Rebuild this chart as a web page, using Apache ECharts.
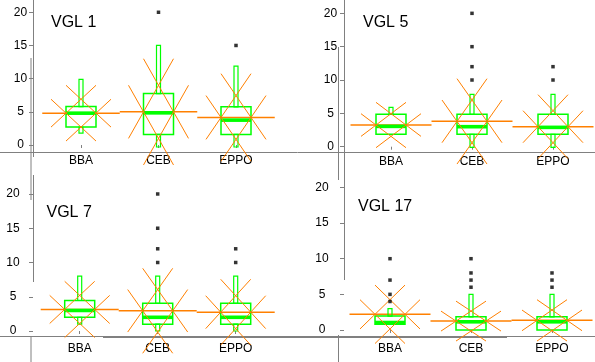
<!DOCTYPE html>
<html><head><meta charset="utf-8">
<script src="https://cdn.jsdelivr.net/npm/echarts@6/dist/echarts.min.js"></script>
<style>html,body{margin:0;padding:0;background:#fff}#c{width:595px;height:362px}</style>
</head><body><div id="c"></div>
<script>
// ---------------- data ----------------
const categories = ['BBA', 'CEB', 'EPPO'];
const panelTitles = ['VGL 1', 'VGL 5', 'VGL 7', 'VGL 17'];
const yTicks = [0, 5, 10, 15, 20];

// [min, q1, median, q3, max] per category
const vgl1Box = [[1.8, 2.7, 4.8, 5.8, 9.9], [-0.3, 1.6, 4.85, 7.75, 15], [-0.3, 1.6, 3.75, 5.75, 11.9]];
const vgl1Mean = [4.8, 5.0, 4.15];
const vgl1Ci = [2.1, 4.0, 3.3];
const vgl1Out = [[], [20], [15]];

const vgl5Box = [[1.85, 1.85, 3.05, 4.85, 5.9], [-0.1, 1.85, 3.0, 4.85, 7.85], [-0.1, 1.85, 2.9, 4.85, 7.85]];
const vgl5Mean = [3.25, 3.8, 3.0];
const vgl5Ci = [1.7, 3.2, 2.4];
const vgl5Out = [[], [10, 12, 15, 20], [10, 12]];

const vgl7Box = [[1.0, 2.0, 3.0, 4.45, 8.0], [0, 1.0, 2.0, 4.05, 8.0], [0, 1.0, 2.0, 4.05, 8.0]];
const vgl7Mean = [3.15, 2.95, 2.75];
const vgl7Ci = [2.05, 3.1, 2.4];
const vgl7Out = [[], [10, 12, 15, 20], [10, 12]];

const vgl17Box = [[0.8, 0.8, 1.05, 1.95, 3.0], [0, 0, 1.15, 1.85, 5.0], [0, 0, 1.15, 1.85, 5.0]];
const vgl17Mean = [2.2, 1.25, 1.35];
const vgl17Ci = [2.05, 1.4, 1.45];
const vgl17Out = [[4, 5, 7, 10], [6, 7, 8, 10], [6, 7, 8]];

// ---------------- layout ----------------
const panels = [
  { box: vgl1Box, mean: vgl1Mean, ci: vgl1Ci, out: vgl1Out,
    grid: { left: 42.25, top: 0, width: 232.5, height: 152 }, min: -1.05, max: 21.85,
    yOffset: 9.25, yMargin: 12.5, xMargin: 3, title: { left: 51, top: 15 } },
  { box: vgl5Box, mean: vgl5Mean, ci: vgl5Ci, out: vgl5Out,
    grid: { left: 350.5, top: 0, width: 243, height: 152.3 }, min: -0.84, max: 22,
    yOffset: 6.5, yMargin: 13.5, xMargin: 3, title: { left: 363, top: 15 } },
  { box: vgl7Box, mean: vgl7Mean, ci: vgl7Ci, out: vgl7Out,
    grid: { left: 40.7, top: 175, width: 234, height: 161.7 }, min: -0.83, max: 22.77,
    yOffset: 7.7, yMargin: 20, xMargin: 6, title: { left: 46.5, top: 205 } },
  { box: vgl17Box, mean: vgl17Mean, ci: vgl17Ci, out: vgl17Out,
    grid: { left: 349.5, top: 175, width: 243, height: 161.7 }, min: -0.94, max: 21.74,
    yOffset: 5.5, yMargin: 22, xMargin: 6, title: { left: 358, top: 198.5 } }
];

const GREEN = '#00ff00', ORANGE = '#ff8000', GRAY = '#808080';
const FONT = 'Liberation Sans, Arial, sans-serif';

function renderItem(params, api) {
  const i = api.value(0);
  const xc = api.coord([i, 0])[0];
  const band = api.size([1, 0])[0];
  const Y = v => api.coord([i, v])[1];
  const hb = 15, hw = 2;
  const mn = api.value(1), q1 = api.value(2), md = api.value(3), q3 = api.value(4), mx = api.value(5);
  const mean = api.value(6), ci = api.value(7);
  const ch = [];
  ch.push({ type: 'line', shape: { x1: xc - band / 2, y1: Y(mean), x2: xc + band / 2, y2: Y(mean) },
    style: { stroke: ORANGE, lineWidth: 1.5 } });
  ch.push({ type: 'rect', shape: { x: xc - hb, y: Y(q3), width: 2 * hb, height: Y(q1) - Y(q3) },
    style: { fill: 'none', stroke: GREEN, lineWidth: 1.5 } });
  if (mx > q3) ch.push({ type: 'rect', shape: { x: xc - hw, y: Y(mx), width: 2 * hw, height: Y(q3) - Y(mx) },
    style: { fill: 'none', stroke: GREEN, lineWidth: 1.2 } });
  if (mn < q1) ch.push({ type: 'rect', shape: { x: xc - hw, y: Y(q1), width: 2 * hw, height: Y(mn) - Y(q1) },
    style: { fill: 'none', stroke: GREEN, lineWidth: 1.2 } });
  ch.push({ type: 'rect', shape: { x: xc - hb, y: Y(md) - 1.8, width: 2 * hb, height: 3.6 },
    style: { fill: GREEN } });
  const T = [xc, Y(mean + ci)], B = [xc, Y(mean - ci)], L = [xc - hb, Y(mean)], R = [xc + hb, Y(mean)];
  [[T, L], [T, R], [B, L], [B, R]].forEach(([a, b]) => {
    const dx = b[0] - a[0], dy = b[1] - a[1];
    ch.push({ type: 'line', shape: { x1: a[0] - dx, y1: a[1] - dy, x2: b[0] + dx, y2: b[1] + dy },
      style: { stroke: ORANGE, lineWidth: 1 } });
  });
  return { type: 'group', children: ch };
}

const option = { animation: false, backgroundColor: '#fff',
  grid: [], xAxis: [], yAxis: [], series: [], title: [], graphic: [] };

panels.forEach((p, k) => {
  option.grid.push(Object.assign({ containLabel: false }, p.grid));
  option.xAxis.push({ type: 'category', gridIndex: k, data: categories,
    axisLine: { show: false }, axisTick: { show: true, alignWithLabel: true, length: 3, lineStyle: { color: GRAY } },
    axisLabel: { margin: p.xMargin, color: '#000', fontSize: 12, fontFamily: FONT },
    splitLine: { show: false } });
  option.yAxis.push({ type: 'value', gridIndex: k, min: p.min, max: p.max, offset: p.yOffset,
    axisLine: { show: false },
    axisTick: { show: true, length: 4, customValues: yTicks, lineStyle: { color: GRAY } },
    axisLabel: { customValues: yTicks, margin: p.yMargin, align: 'center', color: '#000', fontSize: 12, fontFamily: FONT },
    splitLine: { show: false } });
  option.title.push({ text: panelTitles[k], left: p.title.left, top: p.title.top, padding: 0,
    textStyle: { fontSize: 16, fontWeight: 'normal', color: '#000', fontFamily: FONT } });
  const data = categories.map((c, i) => [i].concat(p.box[i], [p.mean[i], p.ci[i]]));
  option.series.push({ type: 'custom', xAxisIndex: k, yAxisIndex: k, renderItem: renderItem,
    encode: { x: 0, y: [1, 2, 3, 4, 5, 6] }, data: data, clip: false, z: 2 });
  const outs = [];
  p.out.forEach((arr, i) => arr.forEach(v => outs.push([i, v])));
  option.series.push({ type: 'scatter', xAxisIndex: k, yAxisIndex: k, data: outs, symbol: 'rect',
    symbolSize: 3.5, itemStyle: { color: '#000' }, z: 3 });
});

// frame lines (panel edges / axis lines)
const frame = [
  [0, 152.5, 595, 152.5, 1],
  [0, 336.5, 595, 336.5, 1],
  [103, 337, 507, 337, 2],
  [33.5, 0, 33.5, 157, 1], [31, 58, 31, 200, 1], [33.5, 175, 33.5, 282, 1], [31, 336, 31, 362, 1],
  [344.5, 0, 344.5, 280, 1], [338.5, 47, 338.5, 180, 1], [338.5, 335, 338.5, 362, 1]
];
frame.forEach(f => option.graphic.push({ type: 'line', silent: true, z: 0,
  shape: { x1: f[0], y1: f[1], x2: f[2], y2: f[3] }, style: { stroke: GRAY, lineWidth: f[4] } }));

const chart = echarts.init(document.getElementById('c'), null, { renderer: 'canvas' });
chart.setOption(option);
</script></body></html>
